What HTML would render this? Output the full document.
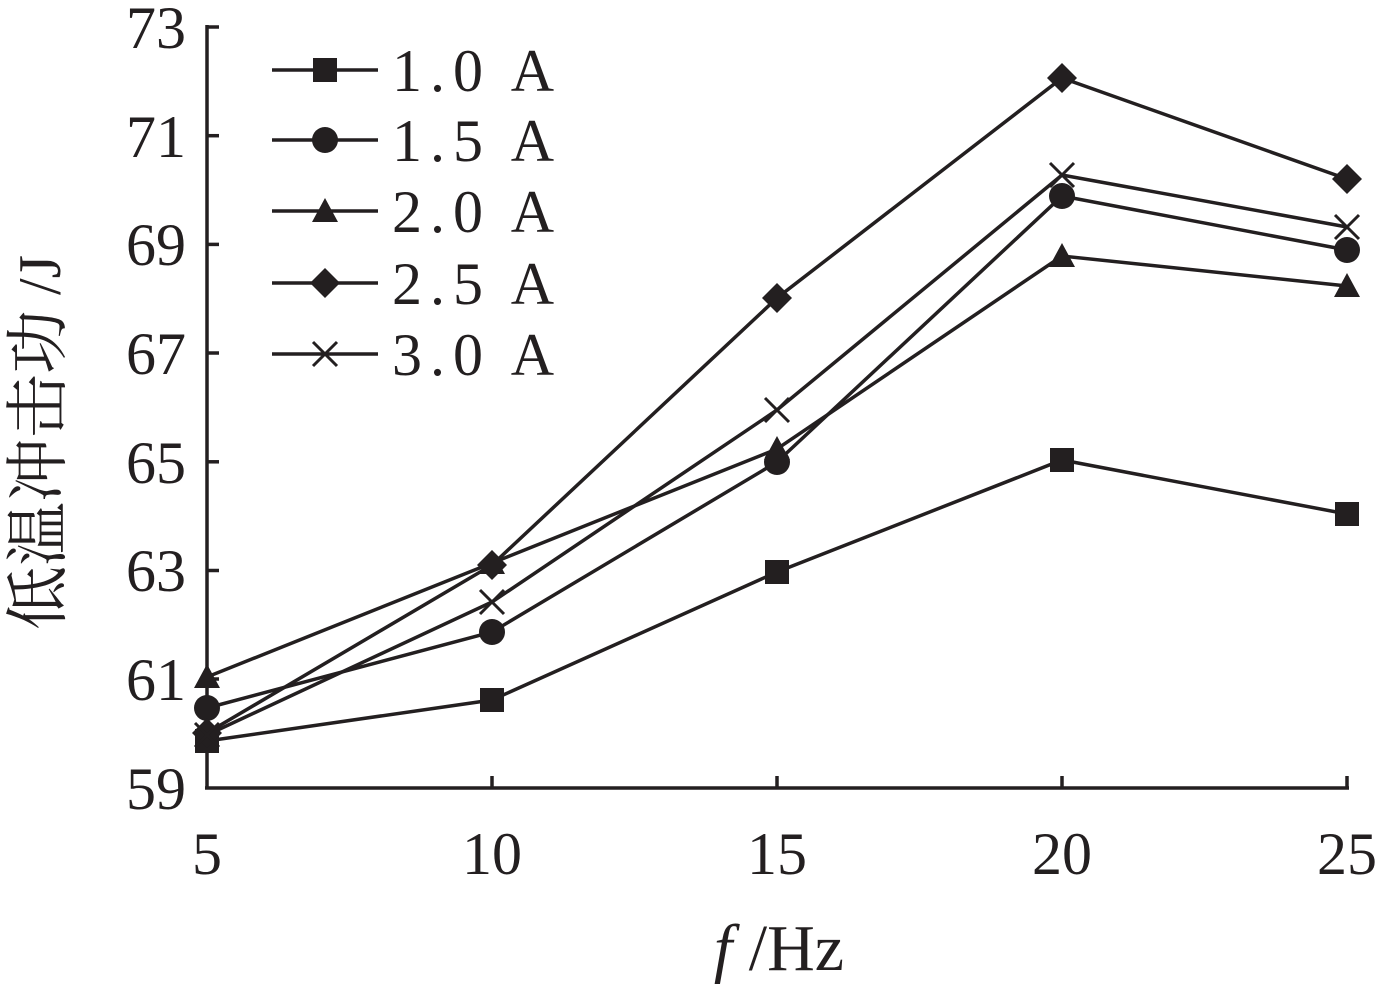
<!DOCTYPE html>
<html><head><meta charset="utf-8"><style>body{margin:0;background:#fff}</style></head><body>
<svg width="1383" height="992" xmlns="http://www.w3.org/2000/svg" font-family="Liberation Serif, serif">
<g stroke="#231f20" stroke-width="3.5" fill="none">
<line x1="207" y1="25" x2="207" y2="789"/>
<line x1="205" y1="788" x2="1349" y2="788"/>
<line x1="207" y1="27" x2="219" y2="27"/>
<line x1="207" y1="135.7" x2="219" y2="135.7"/>
<line x1="207" y1="244.4" x2="219" y2="244.4"/>
<line x1="207" y1="353" x2="219" y2="353"/>
<line x1="207" y1="461.8" x2="219" y2="461.8"/>
<line x1="207" y1="570.5" x2="219" y2="570.5"/>
<line x1="207" y1="679" x2="219" y2="679"/>
<line x1="492" y1="788" x2="492" y2="776"/>
<line x1="777" y1="788" x2="777" y2="776"/>
<line x1="1062" y1="788" x2="1062" y2="776"/>
<line x1="1347" y1="788" x2="1347" y2="776"/>
<polyline points="207,741 492,700 777,572 1062,460 1347,514"/>
<polyline points="207,708 492,632 777,462 1062,196 1347,250"/>
<polyline points="207,677 492,563 777,449 1062,256 1347,286"/>
<polyline points="207,733 492,565 777,298 1062,78 1347,179"/>
<polyline points="207,735 492,602 777,410 1062,175 1347,227"/>
<line x1="272" y1="70" x2="378" y2="70"/>
<line x1="272" y1="140" x2="378" y2="140"/>
<line x1="272" y1="211" x2="378" y2="211"/>
<line x1="272" y1="283" x2="378" y2="283"/>
<line x1="272" y1="354" x2="378" y2="354"/>
</g>
<g fill="#231f20">
<rect x="195" y="729" width="24" height="24"/><rect x="480" y="688" width="24" height="24"/><rect x="765" y="560" width="24" height="24"/><rect x="1050" y="448" width="24" height="24"/><rect x="1335" y="502" width="24" height="24"/><rect x="313" y="58" width="24" height="24"/>
<circle cx="207" cy="708" r="13"/><circle cx="492" cy="632" r="13"/><circle cx="777" cy="462" r="13"/><circle cx="1062" cy="196" r="13"/><circle cx="1347" cy="250" r="13"/><circle cx="325" cy="140" r="13"/>
<path d="M207,664 l13,24 h-26z M492,550 l13,24 h-26z M777,436 l13,24 h-26z M1062,243 l13,24 h-26z M1347,273 l13,24 h-26z M325,198 l13,24 h-26z"/>
<path d="M207,718 l15,15 -15,15 -15,-15z M492,550 l15,15 -15,15 -15,-15z M777,283 l15,15 -15,15 -15,-15z M1062,63 l15,15 -15,15 -15,-15z M1347,164 l15,15 -15,15 -15,-15z M325,268 l15,15 -15,15 -15,-15z"/>
</g>
<g stroke="#231f20" stroke-width="3">
<path d="M195,723 l24,24 M219,723 l-24,24 M480,590 l24,24 M504,590 l-24,24 M765,398 l24,24 M789,398 l-24,24 M1050,163 l24,24 M1074,163 l-24,24 M1335,215 l24,24 M1359,215 l-24,24 M313,342 l24,24 M337,342 l-24,24"/>
</g>
<g font-size="60" fill="#231f20" text-anchor="end">
<text x="186" y="48">73</text><text x="186" y="157">71</text><text x="186" y="265">69</text><text x="186" y="374">67</text><text x="186" y="483">65</text><text x="186" y="591">63</text><text x="186" y="700">61</text><text x="186" y="809">59</text>
</g>
<g font-size="60" fill="#231f20" text-anchor="middle">
<text x="207" y="874">5</text><text x="492" y="874">10</text><text x="777" y="874">15</text><text x="1062" y="874">20</text><text x="1347" y="874">25</text>
</g>
<text x="779" y="970" font-size="66" fill="#231f20" text-anchor="middle"><tspan font-style="italic">f</tspan> /Hz</text>
<g font-size="60" fill="#231f20" letter-spacing="8">
<text x="392" y="91">1.0 A</text><text x="392" y="161">1.5 A</text><text x="392" y="232">2.0 A</text><text x="392" y="304">2.5 A</text><text x="392" y="375">3.0 A</text>
</g>
<text transform="translate(60,630) rotate(-90)" font-size="64" fill="#231f20" font-family="Liberation Serif, Noto Serif CJK SC, serif">低温冲击功<tspan font-size="60"> /J</tspan></text>
</svg>
</body></html>
